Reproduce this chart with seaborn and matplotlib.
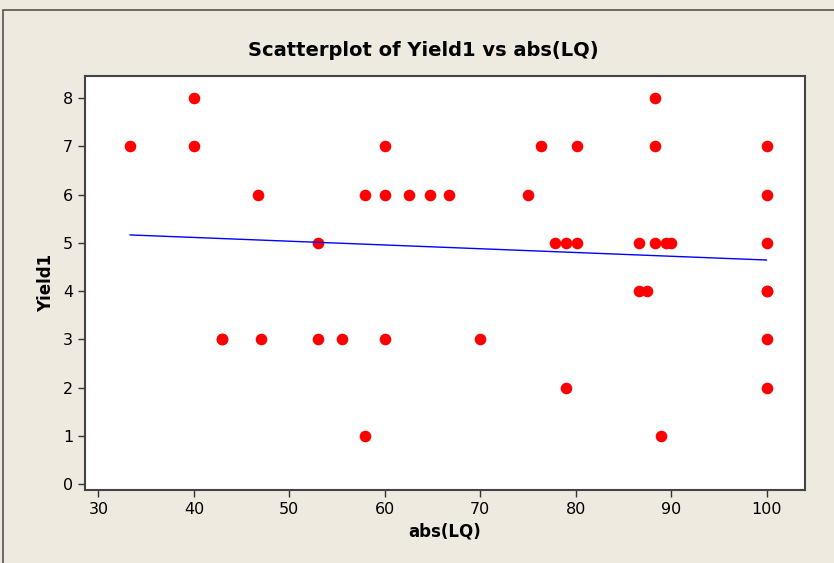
import seaborn as sns
import matplotlib.pyplot as plt
import pandas as pd
from matplotlib.patches import Rectangle

abs_lq = [33.3, 40.0, 40.0, 42.9, 42.9, 46.7, 47.0, 53.0, 53.0, 55.5, 57.9, 57.9,
          60.0, 60.0, 60.0, 62.5, 64.7, 66.7, 70.0, 75.0, 76.4, 77.8, 79.0,
          79.0, 80.1, 80.1, 86.6, 86.6, 87.5, 88.3, 88.3, 88.3, 88.9, 89.5,
          90.0, 100.0, 100.0, 100.0, 100.0, 100.0, 100.0, 100.0]
yield1 = [7, 8, 7, 3, 3, 6, 3, 5, 3, 3, 6, 1,
          7, 6, 3, 6, 6, 6, 3, 6, 7, 5, 5,
          2, 7, 5, 5, 4, 4, 8, 7, 5, 1, 5,
          5, 7, 6, 5, 4, 4, 3, 2]
x_ticks = [30, 40, 50, 60, 70, 80, 90, 100]
y_ticks = [0, 1, 2, 3, 4, 5, 6, 7, 8]

df = pd.DataFrame({'abs(LQ)': abs_lq, 'Yield1': yield1})

sns.set_style('ticks')
plt.rcParams['font.family'] = ['DejaVu Sans']
plt.rcParams['text.color'] = 'black'

bg = '#eeeae0'
fig = plt.figure(figsize=(8.34, 5.63), dpi=100, facecolor=bg)
ax = fig.add_axes([0.102, 0.130, 0.863, 0.735])
ax.set_facecolor('white')

sns.regplot(data=df, x='abs(LQ)', y='Yield1', ax=ax, ci=None,
            scatter_kws={'color': '#ff0000', 's': 70, 'alpha': 1, 'linewidths': 0},
            line_kws={'color': '#0000ff', 'linewidth': 1.0})

ax.set_xlim(28.6, 104.0)
ax.set_ylim(-0.12, 8.46)
ax.set_xticks(x_ticks)
ax.set_yticks(y_ticks)
ax.tick_params(direction='out', length=5, width=1, labelsize=11.5, colors='#333333',
               labelcolor='black')
for s in ax.spines.values():
    s.set_visible(True)
    s.set_color('#444444')
    s.set_linewidth(1.5)

ax.set_xlabel('abs(LQ)', fontsize=12, fontweight='bold', labelpad=4, color='black')
ax.set_ylabel('Yield1', fontsize=12, fontweight='bold', labelpad=6, color='black')
fig.suptitle('Scatterplot of Yield1 vs abs(LQ)', fontsize=14, fontweight='bold',
             x=0.507, y=0.928, color='black')

fig.patches.append(Rectangle((0.004, -0.01), 1.2, 0.993, transform=fig.transFigure,
                             fill=False, edgecolor='#555555', linewidth=1.2))

fig.savefig('out.png', dpi=100, facecolor=bg)
